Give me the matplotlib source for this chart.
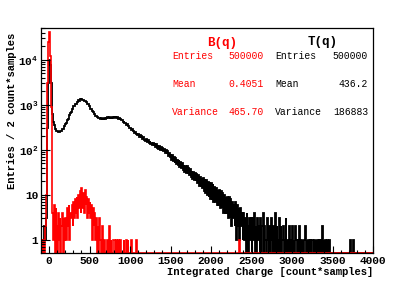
import numpy as np
import matplotlib
matplotlib.use('Agg')
import matplotlib.pyplot as plt
from matplotlib.ticker import LogLocator, MultipleLocator, NullFormatter

# histogram contents, 10 count*samples per bin from -100 to 4000 (values are entries per 2)
t_q = [0, 0, 1, 0, 2, 1, 3, 20, 300, 3000,
       10000, 7800, 3100, 1150, 620, 410, 355, 298, 284, 262,
       266, 245, 255, 243, 262, 256, 284, 286, 325, 333,
       382, 396, 459, 480, 556, 584, 669, 698, 792, 820,
       928, 944, 1050, 1062, 1168, 1165, 1265, 1243, 1327, 1282,
       1342, 1270, 1312, 1222, 1240, 1138, 1142, 1035, 1030, 927,
       916, 820, 808, 720, 710, 638, 633, 574, 576, 530,
       540, 502, 517, 487, 508, 484, 508, 487, 515, 493,
       522, 501, 530, 509, 538, 517, 545, 521, 549, 523,
       548, 520, 542, 512, 530, 496, 510, 475, 487, 451,
       460, 423, 430, 394, 399, 364, 368, 335, 338, 307,
       312, 280, 287, 257, 264, 238, 247, 223, 233, 210,
       222, 196, 210, 186, 200, 176, 190, 167, 178, 157,
       172, 148, 163, 141, 157, 133, 145, 127, 139, 120,
       138, 113, 133, 108, 127, 104, 122, 99, 116, 95,
       112, 92, 106, 86, 99, 80, 92, 74, 86, 68,
       80, 60, 75, 56, 70, 52, 66, 48, 61, 45,
       58, 42, 54, 39, 50, 36, 46, 33, 43, 31,
       43, 29, 40, 27, 37, 25, 34, 23, 32, 21,
       31, 20, 29, 18, 27, 16, 25, 15, 23, 14,
       24, 12, 22, 11, 21, 10, 19, 9, 18, 8,
       18, 8, 17, 7, 15, 7, 14, 6, 13, 6,
       13, 5, 12, 5, 11, 4, 10, 4, 9, 4,
       9, 3, 9, 3, 8, 2, 7, 3, 6, 2,
       7, 1, 6, 2, 5, 1, 5, 2, 4, 1,
       4, 1, 3, 0, 4, 2, 0, 3, 1, 3,
       0, 3, 1, 4, 0, 2, 0, 3, 1, 2,
       0, 3, 0, 2, 4, 0, 2, 1, 0, 3,
       1, 0, 2, 0, 3, 1, 0, 2, 0, 4,
       0, 2, 1, 0, 3, 0, 2, 0, 1, 2,
       0, 1, 3, 0, 1, 0, 2, 0, 1, 0,
       2, 0, 1, 0, 2, 1, 0, 1, 0, 2,
       0, 1, 0, 1, 0, 1, 2, 0, 1, 0,
       1, 0, 1, 0, 1, 1, 0, 1, 0, 1,
       0, 1, 0, 1, 0, 1, 0, 2, 0, 1,
       0, 1, 0, 1, 1, 0, 1, 0, 0, 0,
       0, 0, 0, 0, 0, 0, 0, 0, 0, 0,
       0, 0, 0, 0, 0, 0, 0, 0, 0, 0,
       0, 0, 1, 0, 0, 1, 0, 0, 0, 0,
       0, 0, 0, 0, 0, 0, 0, 0, 0, 0,
       0, 0, 0, 0, 0, 0, 0, 0, 0, 0]

b_q = [1, 0, 1, 1, 0, 2, 10, 150, 3000, 25000,
       42000, 12000, 900, 50, 4, 1, 6, 0, 5, 2,
       0, 4, 1, 3, 0, 2, 4, 0, 3, 1,
       3, 1, 5, 2, 6, 1, 4, 3, 6, 2,
       7, 3, 8, 4, 9, 3, 10, 5, 12, 4,
       14, 5, 11, 4, 13, 6, 9, 3, 8, 4,
       7, 3, 6, 1, 5, 2, 4, 1, 3, 0,
       2, 0, 3, 1, 0, 2, 1, 0, 1, 0,
       0, 1, 1, 0, 2, 0, 1, 0, 0, 1,
       1, 0, 0, 1, 0, 1, 0, 0, 1, 0,
       0, 0, 1, 0, 0, 1, 0, 1, 0, 0,
       0, 1, 0, 0, 0, 0, 0, 1, 0, 0] + [0] * 120 + \
      [0, 0, 0, 0, 0, 1, 0, 0, 0, 0] + [0] * 160

stats_names = ["Entries", "Mean", "Variance"]
b_stats = ["500000", "0.4051", "465.70"]
t_stats = ["500000", "436.2", "186883"]

plt.rcParams['font.family'] = ['Liberation Mono', 'DejaVu Sans Mono']
plt.rcParams['mathtext.fontset'] = 'custom'
plt.rcParams['mathtext.rm'] = 'Liberation Mono:bold'
plt.rcParams['mathtext.bf'] = 'Liberation Mono:bold'
plt.rcParams['mathtext.it'] = 'Liberation Mono:bold'

W, H = 415, 282
fig = plt.figure(figsize=(W / 100, H / 100), dpi=100)
ax = fig.add_axes([41 / W, 29 / H, 332 / W, 225 / H])

ymin, ymax = 0.51, 5.1e4
edges = np.arange(-100, 4001, 10)

# black = total, red = background; zero bins sit on the frame like ROOT
ax.stairs(np.clip(t_q, ymin, None), edges, baseline=None, color='black', lw=1.3, clip_on=False)
ax.stairs(np.clip(b_q, ymin, None), edges, baseline=None, color='#ff0000', lw=1.2, clip_on=False)

ax.set_yscale('log')
ax.set_xlim(-100, 4000)
ax.set_ylim(ymin, ymax)

ax.set_yticks([1, 10, 100, 1000, 10000], labels=['1', '10', '$10^{2}$', '$10^{3}$', '$10^{4}$'])
ax.yaxis.set_minor_locator(LogLocator(base=10, subs=np.arange(2, 10)))
ax.yaxis.set_minor_formatter(NullFormatter())
ax.xaxis.set_major_locator(MultipleLocator(500))
ax.xaxis.set_minor_locator(MultipleLocator(100))

ax.tick_params(axis='both', which='both', direction='in', top=False, right=False, width=0.8)
ax.tick_params(axis='y', which='major', length=6.5, pad=2)
ax.tick_params(axis='y', which='minor', length=3.2)
ax.tick_params(axis='x', which='major', length=5, pad=2)
ax.tick_params(axis='x', which='minor', length=2.5)
for lab in ax.get_xticklabels() + ax.get_yticklabels():
    lab.set_fontsize(8)
    lab.set_fontweight('bold')

for s in ax.spines.values():
    s.set_linewidth(0.9)

ax.set_xlabel('Integrated Charge [count*samples]', fontsize=7.6, fontweight='bold')
ax.xaxis.set_label_coords(1.0, (253 - 272) / 225)
ax.xaxis.label.set(ha='right', va='center')
ax.set_ylabel('Entries / 2 count*samples', fontsize=7.6, fontweight='bold')
ax.yaxis.set_label_coords((12 - 41) / 332, (253 - 33) / 225)
ax.yaxis.label.set(ha='right', va='center', rotation_mode='anchor')

# stats boxes
def px(x, y):
    return x / W, 1 - y / H

rows_y = [56, 84, 112]
fig.text(*px(222, 43), 'B(q)', color='#ff0000', fontsize=9, fontweight='bold', ha='center', va='center')
fig.text(*px(323, 42), 'T(q)', color='black', fontsize=9, fontweight='bold', ha='center', va='center')
for name, bv, tv, y in zip(stats_names, b_stats, t_stats, rows_y):
    fig.text(*px(172, y), name, color='#ff0000', fontsize=7, ha='left', va='center')
    fig.text(*px(264, y), bv, color='#ff0000', fontsize=7, ha='right', va='center')
    fig.text(*px(275, y), name, color='black', fontsize=7, ha='left', va='center')
    fig.text(*px(368, y), tv, color='black', fontsize=7, ha='right', va='center')

fig.savefig('out.png', dpi=100)
